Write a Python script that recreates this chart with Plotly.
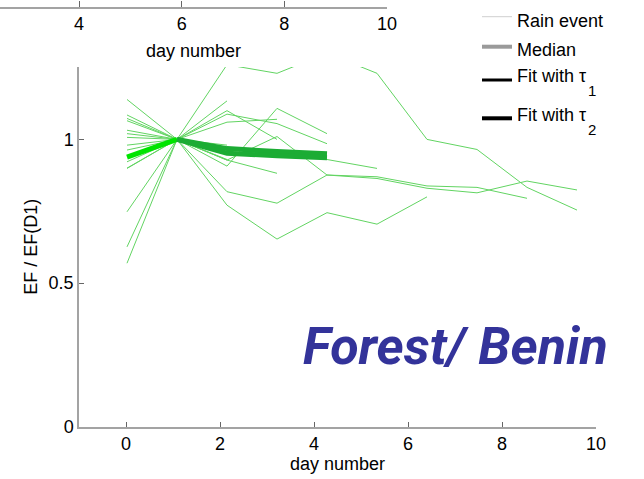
import plotly.graph_objects as go

# ---- data -------------------------------------------------------------
# EF normalised by its value on day 1, one list per rain event (day 0, 1, 2, ...)
event_01 = [1.02, 1.0, 1.26, 1.23, 1.30, 1.23, 1.0, 0.965, 0.833, 0.754]
event_02 = [1.065, 1.0, 0.928, 1.01, 0.876, 0.870, 0.838, 0.833, 0.795]
event_03 = [0.90, 1.0, 0.818, 0.778, 0.876, 0.864, 0.830, 0.814, 0.855, 0.824]
event_04 = [0.98, 1.0, 0.957, 0.95, 0.93, 0.899]
event_05 = [0.748, 1.0, 0.771, 0.653, 0.745, 0.705, 0.80]
event_06 = [1.139, 1.0, 1.134]
event_07 = [0.626, 1.0, 0.907, 1.108, 1.02]
event_08 = [1.085, 1.0, 1.088, 1.055, 0.985]
event_09 = [0.569, 1.0, 1.06, 1.07]
event_10 = [1.073, 1.0, 1.10, 1.0]
event_11 = [1.032, 1.0, 0.928, 0.882]
event_12 = [0.963, 1.0, 0.95, 0.96]
event_13 = [1.007, 1.0, 0.98]
event_14 = [0.922, 1.0, 0.93]
event_15 = [0.899, 1.0, 0.95, 0.94]

events = [event_01, event_02, event_03, event_04, event_05, event_06, event_07,
          event_08, event_09, event_10, event_11, event_12, event_13, event_14,
          event_15]

# fitted recovery curves
fit_rise = [0.938, 1.0]               # day 0 -> day 1
fit_tau1 = [1.0, 0.968, 0.958, 0.950]  # day 1 -> day 4
fit_tau2 = [1.0, 0.952, 0.943, 0.936]  # day 1 -> day 4

x_ticks = [0, 2, 4, 6, 8, 10]
top_ticks = [4, 6, 8, 10]
y_ticks = [0, 0.5, 1]
y_labels = ["0", "0.5", "1"]

legend_names = ["Rain event", "Median", "Fit with τ", "Fit with τ"]
legend_subs = ["", "", "1", "2"]

# ---- figure -----------------------------------------------------------
W, H = 644, 479
FONT = "Liberation Sans, Arial, sans-serif"
AXIS_GREY = "#a3a3a3"
THIN_GREEN = "rgb(98,212,98)"

fig = go.Figure()

# anchor trace for the main day-number / EF axes
fig.add_trace(go.Scatter(x=[None], y=[None], xaxis="x", yaxis="y",
                         showlegend=False, hoverinfo="skip"))

for ev in events:
    fig.add_trace(go.Scatter(
        x=list(range(len(ev))), y=ev, xaxis="x3", yaxis="y",
        mode="lines", line=dict(color=THIN_GREEN, width=1),
        showlegend=False, hoverinfo="skip"))

fig.add_trace(go.Scatter(x=[0, 1], y=fit_rise, xaxis="x3", yaxis="y",
                         mode="lines", line=dict(color="rgb(0,228,0)", width=5),
                         showlegend=False))
for fit in (fit_tau1, fit_tau2):
    fig.add_trace(go.Scatter(x=[1, 2, 3, 4], y=fit, xaxis="x3", yaxis="y",
                             mode="lines", line=dict(color="rgb(28,172,52)", width=5),
                             showlegend=False))

# partial axis of the panel above
fig.add_trace(go.Scatter(x=[None], y=[None], xaxis="x2", yaxis="y2",
                         showlegend=False))

# ---- legend (samples + labels, in pixel positions) --------------------
legend_rows = [  # (sample y, text cap-middle y, colour, width)
    (16.7, 20.0, "#cfcfcf", 1),
    (46.7, 49.0, "#9a9a9a", 4),
    (80.0, 75.0, "black", 3),
    (118.3, 114.0, "black", 4),
]
shapes = []
annotations = []
for (sy, ty, col, w), name, sub in zip(legend_rows, legend_names, legend_subs):
    shapes.append(dict(type="line", xref="paper", yref="paper",
                       x0=482 / W, x1=512 / W, y0=1 - sy / H, y1=1 - sy / H,
                       line=dict(color=col, width=w)))
    annotations.append(dict(text=name, xref="paper", yref="paper",
                            x=515 / W, y=1 - (ty + 1) / H,
                            xanchor="left", yanchor="middle", showarrow=False,
                            font=dict(family=FONT, size=18, color="black")))
    if sub:
        annotations.append(dict(text=sub, xref="paper", yref="paper",
                                x=586 / W, y=1 - (ty + 15) / H,
                                xanchor="left", yanchor="middle", showarrow=False,
                                font=dict(family=FONT, size=15, color="black")))

annotations.append(dict(
    text="<b><i>Forest/ Benin</i></b>", xref="paper", yref="paper",
    x=301 / W, y=1 - 346 / H, xanchor="left", yanchor="middle",
    showarrow=False,
    font=dict(family="Roboto, sans-serif", size=52, color="#33339a")))

x0, x1 = 79 / W, 596 / W
y0, y1 = 1 - 426.7 / H, 1 - 67 / H

axis_common = dict(showline=True, linecolor=AXIS_GREY, linewidth=1.5,
                   ticks="inside", tickcolor="#666", tickwidth=1,
                   showgrid=False, zeroline=False, automargin=False,
                   tickfont=dict(family=FONT, size=18, color="black"))

fig.update_layout(
    template="none",
    width=W, height=H,
    margin=dict(l=0, r=0, t=0, b=0, pad=0),
    paper_bgcolor="white", plot_bgcolor="white",
    font=dict(family=FONT, size=18, color="black"),
    showlegend=False,
    xaxis=dict(domain=[x0, x1], range=[-1, 10], tickvals=x_ticks,
               ticklen=5, anchor="y",
               title=dict(text="day number", standoff=3,
                          font=dict(size=18, family=FONT)),
               **axis_common),
    yaxis=dict(domain=[y0, y1], range=[0, 1.252], tickvals=y_ticks,
               ticktext=y_labels, ticklen=5, anchor="x",
               title=dict(text="EF / EF(D1)", standoff=6,
                          font=dict(size=18, family=FONT)),
               **axis_common),
    xaxis3=dict(overlaying="x", anchor="y", range=[-0.96, 9.38],
                visible=False),
    xaxis2=dict(domain=[0, 387 / W], range=[4 - 79 / 51.33, 10],
                tickvals=top_ticks, anchor="y2", ticklen=6,
                title=dict(text="day number", standoff=11,
                           font=dict(size=18, family=FONT)),
                **axis_common),
    yaxis2=dict(domain=[1 - 6.7 / H, 1], range=[0, 1], visible=False,
                anchor="x2"),
    shapes=shapes,
    annotations=annotations,
)

fig.write_html("out.html")
